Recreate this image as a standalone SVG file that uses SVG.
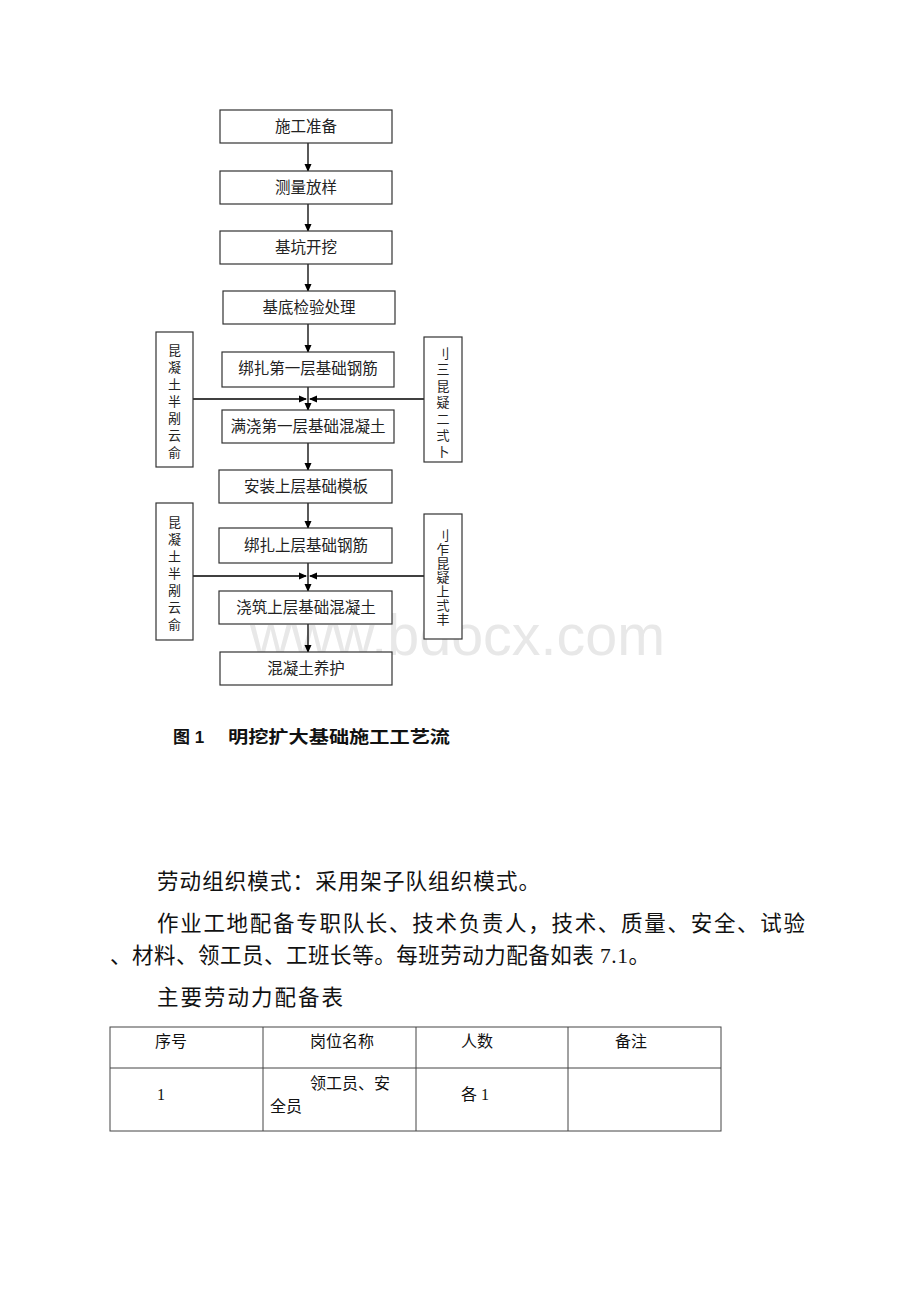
<svg xmlns="http://www.w3.org/2000/svg" width="920" height="1302" viewBox="0 0 920 1302">
<defs>
<marker id="ah" markerWidth="8" markerHeight="8" refX="7" refY="4" orient="auto" markerUnits="userSpaceOnUse">
<path d="M0,0.5 L8,4 L0,7.5 Z" fill="#000"/>
</marker>
<style>
.box{fill:#fff;stroke:#333;stroke-width:1.2}
.lbl{font-family:"Liberation Sans","Noto Sans CJK SC",sans-serif;font-size:15.5px;fill:#222;text-anchor:middle}
.side{font-family:"Liberation Sans","Noto Sans CJK SC",sans-serif;font-size:13px;fill:#222;text-anchor:middle}
.ln{stroke:#000;stroke-width:1.3;fill:none}
.body{font-family:"Liberation Serif","Noto Sans CJK SC",serif;font-size:21.5px;fill:#111}
.tb{font-family:"Liberation Serif","Noto Sans CJK SC",serif;font-size:16px;fill:#111}
.grid{stroke:#444;stroke-width:1;fill:none}
</style>
</defs>
<rect width="920" height="1302" fill="#fff"/>
<text x="250" y="655" font-family="Liberation Sans,Arial,sans-serif" font-size="57" fill="#e8e8e8" textLength="415" lengthAdjust="spacingAndGlyphs">www.bdocx.com</text>
<g id="connectors">
<line class="ln" x1="308" y1="143" x2="308" y2="171" marker-end="url(#ah)"/>
<line class="ln" x1="308" y1="204" x2="308" y2="231" marker-end="url(#ah)"/>
<line class="ln" x1="308" y1="264" x2="308" y2="291" marker-end="url(#ah)"/>
<line class="ln" x1="308" y1="324" x2="308" y2="352" marker-end="url(#ah)"/>
<line class="ln" x1="308" y1="387" x2="308" y2="410" marker-end="url(#ah)"/>
<line class="ln" x1="308" y1="443" x2="308" y2="470" marker-end="url(#ah)"/>
<line class="ln" x1="308" y1="503" x2="308" y2="528" marker-end="url(#ah)"/>
<line class="ln" x1="308" y1="563" x2="308" y2="591" marker-end="url(#ah)"/>
<line class="ln" x1="308" y1="624" x2="308" y2="652" marker-end="url(#ah)"/>
<line class="ln" x1="193" y1="399" x2="306" y2="399" marker-end="url(#ah)"/>
<line class="ln" x1="424" y1="399" x2="310" y2="399" marker-end="url(#ah)"/>
<line class="ln" x1="193" y1="576" x2="306" y2="576" marker-end="url(#ah)"/>
<line class="ln" x1="424" y1="576" x2="310" y2="576" marker-end="url(#ah)"/>
</g>
<g id="n1"><rect class="box" x="220" y="110" width="172" height="33"/><text class="lbl" x="306" y="132">施工准备</text></g>
<g id="n2"><rect class="box" x="220" y="171" width="172" height="33"/><text class="lbl" x="306" y="193">测量放样</text></g>
<g id="n3"><rect class="box" x="220" y="231" width="172" height="33"/><text class="lbl" x="306" y="253">基坑开挖</text></g>
<g id="n4"><rect class="box" x="223" y="291" width="172" height="33"/><text class="lbl" x="309" y="313">基底检验处理</text></g>
<g id="n5"><rect class="box" x="222" y="352" width="172" height="35"/><text class="lbl" x="308" y="374">绑扎第一层基础钢筋</text></g>
<g id="n6"><rect class="box" x="222" y="410" width="172" height="33"/><text class="lbl" x="308" y="432">满浇第一层基础混凝土</text></g>
<g id="n7"><rect class="box" x="219" y="470" width="173" height="33"/><text class="lbl" x="306" y="492">安装上层基础模板</text></g>
<g id="n8"><rect class="box" x="219" y="528" width="173" height="35"/><text class="lbl" x="306" y="551">绑扎上层基础钢筋</text></g>
<g id="n9"><rect class="box" x="219" y="591" width="173" height="33"/><text class="lbl" x="306" y="613">浇筑上层基础混凝土</text></g>
<g id="n10"><rect class="box" x="220" y="652" width="172" height="33"/><text class="lbl" x="306" y="674">混凝土养护</text></g>
<g id="s1"><rect class="box" x="156" y="332" width="37" height="135"/>
<text class="side" x="174.5" y="355">昆</text><text class="side" x="174.5" y="372">凝</text><text class="side" x="174.5" y="389">土</text><text class="side" x="174.5" y="406">半</text><text class="side" x="174.5" y="423">剐</text><text class="side" x="174.5" y="440">云</text><text class="side" x="174.5" y="457">俞</text></g>
<g id="s2"><rect class="box" x="424" y="337" width="38" height="125"/>
<text class="side" x="443" y="358">刂</text><text class="side" x="443" y="374">三</text><text class="side" x="443" y="391">昆</text><text class="side" x="443" y="407">疑</text><text class="side" x="443" y="424">二</text><text class="side" x="443" y="440">弍</text><text class="side" x="443" y="456">卜</text></g>
<g id="s3"><rect class="box" x="156" y="503" width="37" height="137"/>
<text class="side" x="174.5" y="527">昆</text><text class="side" x="174.5" y="544">凝</text><text class="side" x="174.5" y="561">土</text><text class="side" x="174.5" y="578">半</text><text class="side" x="174.5" y="595">剐</text><text class="side" x="174.5" y="612">云</text><text class="side" x="174.5" y="629">俞</text></g>
<g id="s4"><rect class="box" x="424" y="514" width="38" height="125"/>
<text class="side" x="443" y="540" font-size="12">刂</text><text class="side" x="443" y="554" font-size="12">乍</text><text class="side" x="443" y="568" font-size="12">昆</text><text class="side" x="443" y="582" font-size="12">疑</text><text class="side" x="443" y="596" font-size="12">上</text><text class="side" x="443" y="610" font-size="12">弍</text><text class="side" x="443" y="624" font-size="12">丰</text></g>
<g id="caption"><text x="173" y="743" font-family="Liberation Sans,'Noto Sans CJK SC',sans-serif" font-size="17" font-weight="bold" fill="#111">图 1</text>
<text x="228" y="743" font-family="Liberation Sans,'Noto Sans CJK SC',sans-serif" font-size="17" font-weight="bold" fill="#111" textLength="222" lengthAdjust="spacingAndGlyphs">明挖扩大基础施工工艺流</text></g>
<g id="bodytext">
<text class="body" x="157" y="889" textLength="383" lengthAdjust="spacing">劳动组织模式：采用架子队组织模式。</text>
<text class="body" x="157" y="931" textLength="648" lengthAdjust="spacing">作业工地配备专职队长、技术负责人，技术、质量、安全、试验</text>
<text class="body" x="110" y="963" textLength="540" lengthAdjust="spacing">、材料、领工员、工班长等。每班劳动力配备如表 7.1。</text>
<text class="body" x="157" y="1005" textLength="186" lengthAdjust="spacing">主要劳动力配备表</text>
</g>
<g id="table">
<rect class="grid" x="110" y="1027" width="611" height="104"/>
<line class="grid" x1="110" y1="1068" x2="721" y2="1068"/>
<line class="grid" x1="263" y1="1027" x2="263" y2="1131"/>
<line class="grid" x1="416" y1="1027" x2="416" y2="1131"/>
<line class="grid" x1="568" y1="1027" x2="568" y2="1131"/>
<text class="tb" x="155" y="1047">序号</text>
<text class="tb" x="310" y="1047">岗位名称</text>
<text class="tb" x="461" y="1047">人数</text>
<text class="tb" x="615" y="1047">备注</text>
<text class="tb" x="157" y="1100">1</text>
<text class="tb" x="310" y="1089">领工员、安</text>
<text class="tb" x="270" y="1112">全员</text>
<text class="tb" x="461" y="1100">各 1</text>
</g>
</svg>
